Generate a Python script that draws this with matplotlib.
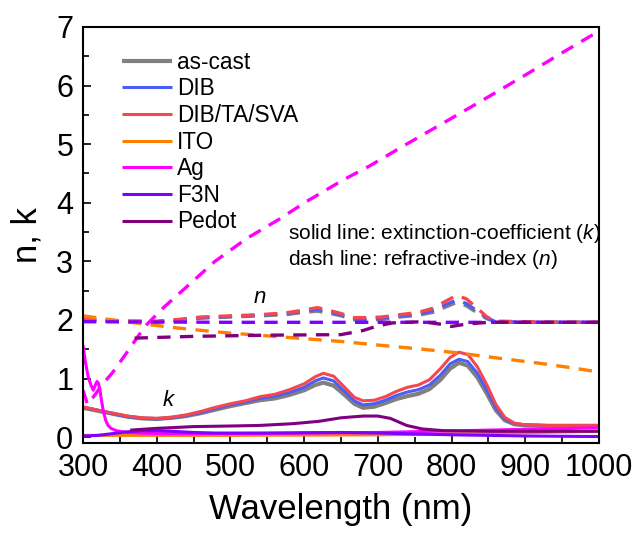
import matplotlib
matplotlib.use("Agg")
import matplotlib.pyplot as plt
from matplotlib.ticker import MultipleLocator

plt.rcParams['font.family'] = ['Liberation Sans', 'DejaVu Sans']
plt.rcParams['mathtext.fontset'] = 'custom'
plt.rcParams['mathtext.rm'] = 'Liberation Sans'
plt.rcParams['mathtext.it'] = 'Liberation Sans:italic'

# ---------------- data ----------------
# polymer films: extinction coefficient k
wl_k = [300, 320, 340, 360, 380, 400, 420, 440, 460, 480, 500, 520, 540, 560, 580,
        600, 615, 626, 640, 655, 668, 680, 695, 710, 725, 740, 755, 770, 785, 798,
        810, 822, 835, 848, 860, 872, 885, 900, 930, 960, 1000]
k_ascast = [0.50, 0.45, 0.40, 0.35, 0.32, 0.31, 0.33, 0.36, 0.41, 0.47, 0.53, 0.58, 0.63, 0.66, 0.72,
            0.80, 0.89, 0.93, 0.88, 0.72, 0.57, 0.50, 0.52, 0.58, 0.65, 0.70, 0.74, 0.82, 0.98, 1.17,
            1.27, 1.22, 1.02, 0.74, 0.46, 0.29, 0.22, 0.20, 0.19, 0.19, 0.19]
k_dib = [0.51, 0.46, 0.40, 0.35, 0.32, 0.31, 0.33, 0.37, 0.42, 0.49, 0.55, 0.60, 0.66, 0.70, 0.76,
         0.85, 0.96, 1.01, 0.96, 0.78, 0.62, 0.55, 0.57, 0.63, 0.71, 0.77, 0.81, 0.89, 1.06, 1.25,
         1.33, 1.29, 1.09, 0.80, 0.50, 0.31, 0.23, 0.21, 0.20, 0.20, 0.20]
k_sva = [0.52, 0.46, 0.41, 0.36, 0.33, 0.32, 0.34, 0.38, 0.44, 0.51, 0.57, 0.62, 0.69, 0.73, 0.81,
         0.91, 1.03, 1.09, 1.04, 0.85, 0.68, 0.62, 0.63, 0.69, 0.78, 0.85, 0.89, 0.98, 1.17, 1.36,
         1.45, 1.41, 1.20, 0.89, 0.56, 0.34, 0.24, 0.21, 0.20, 0.20, 0.20]

# polymer films: refractive index n
wl_n = [300, 330, 360, 400, 430, 460, 500, 540, 575, 600, 618, 632, 650, 668, 685,
        705, 730, 755, 775, 792, 807, 820, 835, 848, 860, 900, 950, 1000]
n_ascast = [2.00, 1.98, 1.97, 1.96, 1.99, 2.03, 2.05, 2.07, 2.09, 2.13, 2.15, 2.12, 2.07, 2.00, 1.99,
            2.01, 2.05, 2.08, 2.13, 2.22, 2.30, 2.24, 2.12, 2.02, 1.97, 1.96, 1.96, 1.96]
n_dib = [2.01, 1.99, 1.98, 1.97, 2.00, 2.04, 2.06, 2.08, 2.11, 2.15, 2.18, 2.14, 2.09, 2.02, 2.01,
         2.03, 2.07, 2.10, 2.16, 2.26, 2.34, 2.28, 2.15, 2.03, 1.97, 1.96, 1.96, 1.96]
n_sva = [2.02, 2.00, 1.98, 1.98, 2.01, 2.05, 2.07, 2.09, 2.12, 2.17, 2.21, 2.17, 2.11, 2.04, 2.04,
         2.05, 2.09, 2.13, 2.20, 2.32, 2.42, 2.36, 2.20, 2.05, 1.98, 1.97, 1.96, 1.96]

# ITO
wl_ito = [300, 340, 377, 430, 495, 570, 653, 710, 761, 807, 875, 920, 965, 1000]
n_ito = [2.07, 2.00, 1.94, 1.86, 1.78, 1.71, 1.63, 1.56, 1.50, 1.44, 1.33, 1.26, 1.18, 1.11]
wl_ito_k = [300, 400, 500, 600, 700, 780, 850, 920, 1000]
k_ito = [0.03, 0.03, 0.03, 0.035, 0.04, 0.05, 0.06, 0.08, 0.10]

# Ag
wl_ag_n = [300, 306, 315, 325, 340, 357, 384, 410, 441, 479, 522, 565, 603, 653, 689, 732,
           790, 838, 900, 950, 1000]
n_ag = [0.80, 0.56, 0.70, 0.88, 1.10, 1.40, 1.89, 2.22, 2.57, 3.00, 3.39, 3.71, 4.02, 4.39, 4.63, 4.95,
        5.37, 5.72, 6.18, 6.56, 6.93]
wl_ag_k = [300, 303, 307, 311, 314, 317, 319, 321, 323, 325, 328, 331, 334, 338, 345, 360, 400, 500,
           600, 700, 850, 1000]
k_ag = [1.57, 1.30, 1.03, 0.88, 0.80, 0.90, 0.95, 0.92, 0.80, 0.63, 0.42, 0.28, 0.20, 0.15, 0.11, 0.08, 0.06, 0.06,
        0.07, 0.08, 0.12, 0.16]

# F3N
wl_f3n_n = [300, 500, 700, 850, 1000]
n_f3n = [1.97, 1.96, 1.96, 1.96, 1.96]
wl_f3n_k = [300, 320, 340, 360, 380, 400, 420, 450, 480, 550, 650, 700, 800, 900, 1000]
k_f3n = [0.02, 0.03, 0.06, 0.09, 0.11, 0.11, 0.10, 0.08, 0.07, 0.07, 0.08, 0.07, 0.04, 0.02, 0.01]

# Pedot
wl_ped_n = [370, 450, 550, 650, 680, 700, 720, 760, 790, 800, 820, 850, 1000]
n_ped = [1.69, 1.72, 1.74, 1.75, 1.82, 1.90, 1.95, 1.97, 1.92, 1.89, 1.93, 1.96, 1.96]
wl_ped_k = [364, 400, 450, 500, 540, 585, 620, 650, 680, 700, 717, 739, 760, 790, 850, 1000]
k_ped = [0.12, 0.15, 0.18, 0.19, 0.20, 0.23, 0.27, 0.33, 0.36, 0.36, 0.32, 0.20, 0.14, 0.11, 0.10, 0.10]

labels = ['as-cast', 'DIB', 'DIB/TA/SVA', 'ITO', 'Ag', 'F3N', 'Pedot']
colors = ['#808080', '#4A5EF5', '#F5474F', '#FF8000', '#FF00FF', '#8000FF', '#800080']

# ---------------- figure ----------------
fig = plt.figure(figsize=(6.38, 5.34), dpi=100)
ax = fig.add_axes([83/638, 91/534, 516/638, 416/534])

dash = (4, 2.8)
lw_d = 2.4

series = [
    (wl_k, k_ascast, wl_n, n_ascast, 3.0),
    (wl_k, k_dib, wl_n, n_dib, 2.2),
    (wl_k, k_sva, wl_n, n_sva, 2.2),
    (wl_ito_k, k_ito, wl_ito, n_ito, 2.2),
    (wl_ag_k, k_ag, wl_ag_n, n_ag, 2.2),
    (wl_f3n_k, k_f3n, wl_f3n_n, n_f3n, 2.2),
    (wl_ped_k, k_ped, wl_ped_n, n_ped, 2.2),
]
for (xk, yk, xn, yn, lw), lab, c in zip(series, labels, colors):
    ax.plot(xk, yk, color=c, lw=lw, label=lab, solid_capstyle='butt')
    ax.plot(xn, yn, color=c, lw=lw_d, dashes=dash, dash_capstyle='butt')

ax.set_xlim(300, 1000)
ax.set_ylim(-0.1, 7)
ax.xaxis.set_major_locator(MultipleLocator(100))
ax.xaxis.set_minor_locator(MultipleLocator(50))
ax.yaxis.set_major_locator(MultipleLocator(1))
ax.yaxis.set_minor_locator(MultipleLocator(0.5))
ax.tick_params(axis='both', which='both', direction='in', top=False, right=False, width=1.2)
ax.tick_params(axis='both', which='major', length=5.5, labelsize=22)
ax.tick_params(axis='both', which='minor', length=4.5)
ax.tick_params(axis='x', which='major', pad=7)
ax.tick_params(axis='y', which='major', pad=7)
for s in ax.spines.values():
    s.set_linewidth(1.5)

ax.set_xlabel('Wavelength (nm)', fontsize=25)
ax.set_ylabel('n, k', fontsize=25)
ax.xaxis.set_label_coords(0.5, -0.12)
ax.yaxis.set_label_coords(-0.077, 0.5)

leg = ax.legend(loc='upper left', bbox_to_anchor=(0.0756, 0.943), frameon=False,
                fontsize=16.3, handlelength=2.2, handletextpad=0.22,
                labelspacing=0.16, borderpad=0, borderaxespad=0)

ax.text(578, 3.47, r'solid line: extinction-coefficient ($\mathit{k}$)', fontsize=15, va='center', ha='left')
ax.text(578, 3.04, r'dash line: refractive-index ($\mathit{n}$)', fontsize=15, va='center', ha='left')
ax.text(540, 2.38, 'n', fontsize=16, style='italic', ha='center', va='center')
ax.text(416, 0.62, 'k', fontsize=16, style='italic', ha='center', va='center')

fig.savefig('out.png', dpi=100)
